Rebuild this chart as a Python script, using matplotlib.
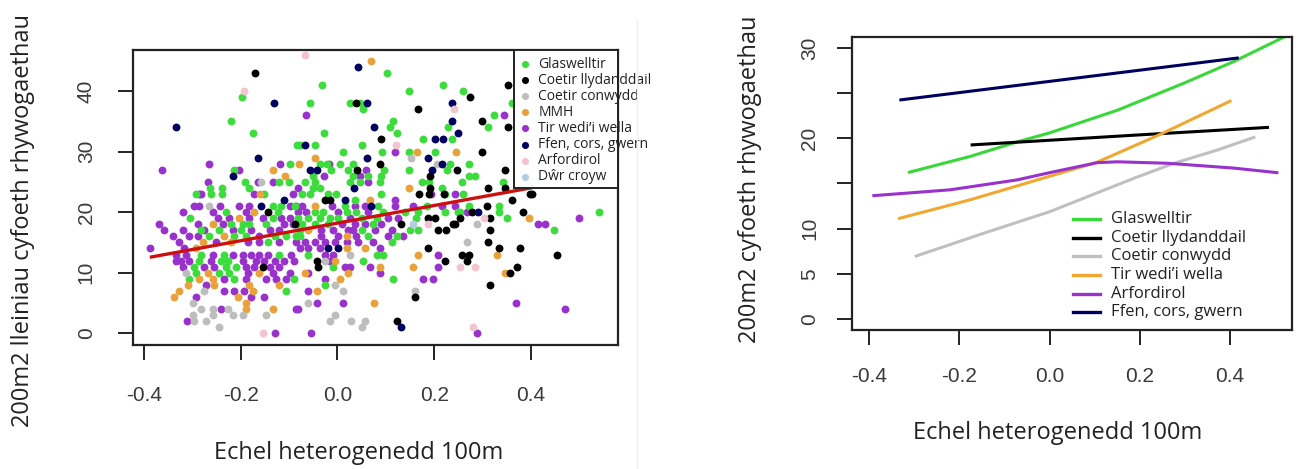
"""Two-panel richness vs heterogeneity figure (Welsh labels)."""

import matplotlib
matplotlib.use("Agg")
import matplotlib.pyplot as plt
from matplotlib.patches import Rectangle

plt.rcParams["axes.unicode_minus"] = False

# ---- left panel: points per habitat (x = heterogeneity axis, y = species count) ----
glas_x = [-0.197, -0.219, -0.175, -0.084, -0.098, -0.213, -0.190, -0.12, -0.10, -0.263, -0.239, -0.183, -0.292,
          0.102, -0.031, 0.148, 0.219, -0.057, 0.026, 0.047, 0.053, 0.115, 0.109, 0.228, -0.027, 0.122, 0.176, 0.236,
          -0.078, -0.047, 0.051, 0.012, 0.093, 0.147, 0.202, -0.035, -0.021, 0.005, 0.033, 0.232, -0.013, 0.021,
          0.097, 0.147, 0.226, -0.050, 0.033, 0.064, 0.091, -0.067, -0.046, 0.026, 0.047, 0.088, 0.175, 0.189,
          0.215, -0.050, -0.036, -0.019, -0.002,
          0.260, 0.324, 0.312, 0.360, 0.271, 0.271, 0.285, 0.257, 0.343,
          -0.261, -0.238, -0.151, -0.134, -0.116, -0.230, -0.123, -0.305, -0.134, -0.220, -0.196, -0.182, -0.147,
          -0.282, -0.244, -0.199, -0.265, -0.213, -0.189, -0.130, -0.106, -0.085, -0.144, -0.282, -0.234, -0.120,
          -0.285, -0.240, -0.227, -0.296, -0.230, -0.209, -0.292, -0.244, -0.223, -0.306, -0.213, -0.089, -0.106,
          -0.074, -0.057, 0.091, 0.222, 0.036, -0.088, 0.015, 0.084, 0.184, -0.047, -0.029, 0.019, 0.039, 0.095,
          0.139, 0.167, 0.222, 0.250, -0.081, -0.060, -0.036, -0.016, 0.002, 0.050, 0.081, 0.163, -0.074, -0.047,
          -0.019, 0.074, -0.078, 0.050, 0.150, 0.167, -0.078, 0.064, 0.122, 0.112, -0.060, 0.081, 0.095, 0.053,
          -0.009, 0.115, -0.026,
          0.260, 0.271, 0.333, 0.253, 0.333, 0.541, 0.350, 0.448]
glas_y = [39, 35, 33, 31, 28, 27, 25, 25, 25, 24, 24, 24, 23,
          43, 41, 40, 41, 38, 38, 38, 37, 35, 34, 34, 33, 33, 32, 32,
          31, 31, 31, 30, 30, 30, 30, 28, 28, 28, 28, 28, 27, 27,
          27, 27, 27, 26, 26, 26, 26, 25, 25, 25, 25, 25, 25, 25,
          24, 24, 24, 23, 23,
          40, 36, 34, 38, 28, 26, 26, 25, 25,
          23, 23, 23, 21, 21, 20, 20, 19, 19, 18, 18, 18, 18,
          17, 17, 17, 16, 16, 16, 16, 16, 16, 15, 13, 13, 13,
          12, 12, 12, 11, 11, 11, 10, 10, 10, 9, 9, 9, 7,
          23, 23, 23, 23, 22, 21, 21, 21, 21, 20, 20, 20, 20, 20,
          20, 20, 20, 20, 19, 19, 19, 19, 19, 19, 19, 19, 18, 18,
          18, 18, 17, 17, 17, 17, 16, 16, 16, 15, 13, 13, 13, 12,
          11, 9, 8,
          23, 21, 21, 20, 20, 20, 19, 17]

llyd_x = [-0.171, 0.038, 0.166, 0.090, 0.088, 0.040, 0.191, 0.191, 0.168, 0.189, 0.220, 0.353, 0.274, 0.298,
          0.353, 0.298, 0.346, 0.246, 0.312, 0.346, 0.398, -0.144, -0.154, -0.026, -0.016, 0.188, 0.201,
          -0.088, 0.132, 0.239, 0.208, 0.225, 0.188, -0.043, 0.222, -0.040, 0.160, 0.122, 0.401, 0.360, 0.308,
          0.277, 0.384, 0.253, 0.315, 0.243, 0.315, 0.312, 0.333, 0.377, 0.257, 0.271, 0.453, 0.267, 0.370,
          0.357, 0.315]
llyd_y = [43, 38, 37, 32, 28, 27, 26, 24, 23, 23, 23, 41, 39, 35,
          34, 30, 27, 27, 24, 24, 23, 20, 11, 22, 22, 19, 19,
          18, 18, 18, 17, 17, 14, 12, 12, 11, 6, 2, 23, 22, 21,
          20, 20, 19, 19, 18, 17, 15, 14, 14, 13, 13, 13, 12, 11,
          10, 8]

conw_x = [-0.157, 0.151, 0.205, -0.265, -0.313, -0.275, -0.299, -0.282, -0.258, -0.227, -0.299, -0.258,
          -0.216, -0.196, -0.147, -0.296, -0.271, -0.244, 0.026, -0.026, -0.005, 0.012, 0.160, -0.060, -0.005,
          -0.016, 0.029, 0.057, 0.050, 0.288, 0.267]
conw_y = [25, 29, 28, 21, 10, 7, 5, 4, 4, 4, 3, 3,
          3, 3, 3, 2, 2, 1, 13, 12, 8, 7, 7, 5, 3,
          2, 2, 2, 1, 18, 15]

mmh_x = [-0.080, -0.133, -0.109, -0.160, 0.069, 0.165, 0.245, -0.046, 0.148, -0.172, -0.203, -0.258, -0.234,
         -0.278, -0.220, -0.292, -0.268, -0.161, -0.285, -0.258, -0.309, -0.254, -0.182, -0.120, -0.327,
         -0.175, -0.337, -0.206, -0.189, -0.189, -0.134, 0.067, -0.047, -0.060, 0.019, 0.019, 0.057, 0.167,
         -0.005, 0.088, 0.157, -0.067, 0.022, 0.005, -0.043, 0.075, 0.395, 0.329, 0.346]
mmh_y = [28, 27, 26, 23, 45, 30, 30, 29, 24, 20, 19, 18, 16,
         15, 15, 14, 10, 10, 9, 9, 8, 8, 8, 8, 7,
         7, 6, 6, 5, 4, 4, 22, 21, 17, 16, 14, 14, 13,
         12, 11, 11, 10, 10, 9, 7, 5, 19, 13, 10]

tir_x = [-0.362, -0.265, -0.118, -0.204, -0.268, -0.164, -0.133, -0.285,
         -0.064, 0.119, -0.018, 0.059, -0.027, 0.047, 0.064, -0.081, 0.345,
         -0.282, -0.172, -0.092, -0.296, -0.285, -0.242, -0.204, -0.182, -0.099, -0.085, -0.320, -0.258,
         -0.189, -0.099, -0.247, -0.223, -0.182, -0.154, -0.116, -0.369, -0.289, -0.237, -0.110, -0.092,
         -0.358, -0.320, -0.275, -0.216, -0.178, -0.140, -0.120, -0.340, -0.306, -0.289, -0.161, -0.327,
         -0.251, -0.185, -0.161, -0.120, -0.387, -0.316, -0.333, -0.313, -0.258, -0.216, -0.196, -0.178,
         -0.161, -0.144, -0.096, -0.333, -0.323, -0.306, -0.261, -0.196, -0.168, -0.151, -0.130, -0.110,
         -0.089, -0.320, -0.275, -0.254, -0.189, -0.172, -0.140, -0.120, -0.185, -0.134, -0.099, -0.234,
         -0.189, -0.147, -0.127, -0.106, -0.271, -0.234, -0.213, -0.192, -0.292, -0.178, -0.151, -0.240,
         -0.085, -0.311, -0.128,
         0.119, 0.194, 0.243, -0.074, -0.012, 0.036, 0.057, 0.119, 0.157, 0.215, 0.243, -0.081, -0.064,
         0.002, 0.064, 0.026, 0.105, 0.126, 0.009, 0.036, 0.057, 0.091, -0.033, -0.009, 0.022, 0.033, 0.077,
         0.112, -0.033, 0.002, 0.039, 0.105, 0.136, -0.085, -0.067, -0.047, -0.026, -0.005, 0.019, 0.043,
         0.074, -0.078, -0.060, -0.036, 0.088, -0.026, -0.009, 0.208, -0.016, 0.015, 0.026, 0.067, 0.208,
         -0.060, 0.088, -0.026, 0.177, 0.198, -0.060, -0.043, 0.012, -0.081, -0.054,
         0.267, 0.498, 0.415, 0.429, 0.369, 0.470, 0.288]
tir_y = [27, 28, 28, 27, 25, 25, 25, 23,
         36, 30, 28, 27, 26, 26, 25, 24, 36,
         23, 23, 23, 21, 21, 21, 21, 21, 21, 21, 20, 20,
         20, 19, 19, 19, 19, 19, 19, 18, 18, 18, 18, 18,
         17, 17, 17, 17, 17, 17, 17, 16, 16, 16, 16, 15,
         15, 15, 15, 15, 14, 14, 13, 13, 13, 13, 13, 13,
         13, 13, 13, 12, 12, 12, 12, 12, 12, 12, 12, 12,
         12, 11, 11, 11, 11, 11, 11, 11, 10, 10, 10, 9,
         9, 9, 9, 9, 8, 7, 7, 7, 6, 6, 6, 4,
         4, 2, 0,
         22, 23, 23, 21, 21, 21, 21, 21, 21, 21, 21, 20, 20,
         20, 20, 19, 19, 19, 18, 18, 18, 18, 17, 17, 17, 17, 17,
         17, 16, 16, 16, 16, 16, 15, 15, 15, 15, 15, 15, 15,
         15, 14, 14, 14, 14, 13, 13, 13, 12, 11, 11, 11, 11,
         10, 10, 9, 9, 9, 7, 5, 5, 4, 0,
         20, 19, 18, 18, 5, 4, 0]

ffen_x = [-0.132, -0.333, -0.165, -0.215, 0.043, 0.062, 0.237, 0.237, 0.075, 0.202, 0.219, -0.067, 0.062,
          0.187, 0.217, -0.057, -0.043, 0.195, 0.034, 0.250, -0.158, -0.110, 0.015, 0.070, -0.019, 0.002,
          0.132, 0.291]
ffen_y = [38, 34, 29, 26, 44, 38, 38, 35, 34, 32, 32, 31, 29,
          29, 28, 27, 27, 27, 24, 33, 21, 22, 22, 21, 14, 14,
          1, 20]

arf_x = [-0.193, -0.067, 0.240, 0.120, -0.154, 0.188, 0.302, 0.253, 0.284, 0.281]
arf_y = [40, 46, 37, 31, 0, 18, 19, 11, 11, 1]

dwr_x = [0.157]
dwr_y = [18]

# fitted line across all points
fit_x = [-0.384, 0.400]
fit_y = [12.6, 24.0]

scatter_labels = ["Glaswelltir", "Coetir llydanddail", "Coetir conwydd", "MMH",
                  "Tir wedi\u2019i wella", "Ffen, cors, gwern", "Arfordirol", "D\u0175r croyw"]
scatter_colors = ["#3cdc3c", "#000000", "#bdbdbd", "#e9a23b",
                  "#9932cc", "#00005f", "#f2c4ce", "#b5cde3"]
scatter_data = [(glas_x, glas_y), (llyd_x, llyd_y), (conw_x, conw_y), (mmh_x, mmh_y),
                (tir_x, tir_y), (ffen_x, ffen_y), (arf_x, arf_y), (dwr_x, dwr_y)]

# ---- right panel: fitted curves per habitat ----
line_labels = ["Glaswelltir", "Coetir llydanddail", "Coetir conwydd",
               "Tir wedi\u2019i wella", "Arfordirol", "Ffen, cors, gwern"]
line_colors = ["#38d838", "#000000", "#c0c0c0", "#f0a830", "#9932cc", "#00005f"]
glas_fit_x = [-0.311, -0.176, -0.072, 0.0, 0.150, 0.298, 0.409, 0.52]
glas_fit_y = [16.25, 18.0, 19.6, 20.6, 23.1, 26.1, 28.5, 31.2]
llyd_fit_x = [-0.172, 0.224, 0.483]
llyd_fit_y = [19.27, 20.45, 21.2]
conw_fit_x = [-0.296, -0.147, 0.0, 0.187, 0.276, 0.372, 0.453]
conw_fit_y = [6.98, 9.49, 11.88, 15.58, 17.24, 18.7, 20.1]
tir_fit_x = [-0.333, -0.176, 0.0, 0.105, 0.246, 0.40]
tir_fit_y = [11.15, 13.2, 15.8, 17.35, 20.45, 24.1]
arf_fit_x = [-0.39, -0.221, -0.072, 0.0, 0.105, 0.15, 0.261, 0.409, 0.504]
arf_fit_y = [13.66, 14.3, 15.4, 16.2, 17.3, 17.4, 17.24, 16.7, 16.2]
ffen_fit_x = [-0.330, 0.416]
ffen_fit_y = [24.25, 28.87]
line_data = [(glas_fit_x, glas_fit_y), (llyd_fit_x, llyd_fit_y), (conw_fit_x, conw_fit_y),
             (tir_fit_x, tir_fit_y), (arf_fit_x, arf_fit_y), (ffen_fit_x, ffen_fit_y)]

xticks = [-0.4, -0.2, 0.0, 0.2, 0.4]
xticklabels = ["-0.4", "-0.2", "0.0", "0.2", "0.4"]
left_yticks = [0, 10, 20, 30, 40]
right_yticks = [0, 5, 10, 15, 20, 25, 30]
right_yticklabels = ["0", "5", "10", "", "20", "", "30"]

label_font = "Open Sans"
tick_font = "Liberation Sans"
edge = "#222222"

fig = plt.figure(figsize=(12.98, 4.69), dpi=100)
ax1 = fig.add_axes([0.1022, 0.2644, 0.3741, 0.6290])
ax2 = fig.add_axes([0.6562, 0.2964, 0.3390, 0.6247])


def style_axes(ax):
    for sp in ax.spines.values():
        sp.set_linewidth(1.6)
        sp.set_color(edge)
    ax.tick_params(direction="out", length=10.5, width=1.4, color=edge, labelcolor="#3a3a3a",
                   labelsize=15)
    for lab in ax.get_xticklabels() + ax.get_yticklabels():
        lab.set_family(tick_font)


# left: scatter
order = [4, 0, 3, 2, 1, 5, 6, 7]
for i in order:
    xs, ys = scatter_data[i]
    ax1.scatter(xs, ys, s=32, color=scatter_colors[i], linewidths=0, zorder=2)
ax1.plot(fit_x, fit_y, color="#cc1010", lw=2.4, zorder=3)
ax1.set_xlim(-0.423, 0.58)
ax1.set_ylim(-1.93, 46.75)
ax1.set_xticks(xticks)
ax1.set_xticklabels(xticklabels)
ax1.set_yticks(left_yticks)
ax1.set_yticklabels([str(v) for v in left_yticks], rotation=90, va="center")
ax1.tick_params(axis="x", pad=19)
ax1.tick_params(axis="y", pad=16)
style_axes(ax1)

# left legend drawn like the R box, text running past the frame
ax1.add_patch(Rectangle((0.7858, 0.5312), 1 - 0.7858, 1 - 0.5312, transform=ax1.transAxes,
                        facecolor="white", edgecolor=edge, lw=1.4, zorder=5, clip_on=False))
for k, (lab, col) in enumerate(zip(scatter_labels, scatter_colors)):
    yy = 0.9525 - k * 0.0546
    ax1.scatter([0.8079], [yy], s=26, color=col, linewidths=0, transform=ax1.transAxes,
                zorder=6, clip_on=False)
    ax1.text(0.8353, yy, lab, transform=ax1.transAxes, va="center", ha="left",
             fontsize=10, family=label_font, color="#222222", zorder=6, clip_on=False)

# right: fitted curves
for (xs, ys), col in zip(line_data, line_colors):
    ax2.plot(xs, ys, color=col, lw=2.2)
ax2.set_xlim(-0.439, 0.537)
ax2.set_ylim(-1.2, 31.2)
ax2.set_xticks(xticks)
ax2.set_xticklabels(xticklabels)
ax2.set_yticks(right_yticks)
ax2.set_yticklabels(right_yticklabels, rotation=90, va="center")
ax2.tick_params(axis="x", pad=16)
ax2.tick_params(axis="y", pad=13)
style_axes(ax2)

for k, (lab, col) in enumerate(zip(line_labels, line_colors)):
    yy = 0.3788 - k * 0.0637
    ax2.plot([0.5036, 0.5643], [yy, yy], color=col, lw=2.4, transform=ax2.transAxes)
    ax2.text(0.5902, yy, lab, transform=ax2.transAxes, va="center", ha="left",
             fontsize=12, family=label_font, color="#222222")

# axis titles
W, H = 1298, 469
title_kw = dict(ha="center", va="center", fontsize=17, family=label_font, color="#222222")
fig.text(23 / W, 1 - 220 / H, "200m2 lleiniau cyfoeth rhywogaethau", rotation=90, **title_kw)
fig.text(359 / W, 1 - 453 / H, "Echel heterogenedd 100m", **title_kw)
fig.text(750 / W, 1 - 179 / H, "200m2 cyfoeth rhywogaethau", rotation=90, **title_kw)
fig.text(1058 / W, 1 - 433 / H, "Echel heterogenedd 100m", **title_kw)

# faint seam between the two pasted panels
fig.add_artist(plt.Line2D([637 / W, 637 / W], [0.0, 0.96], transform=fig.transFigure,
                          color="#f0f0f0", lw=1))

fig.savefig("out.png", dpi=100)
